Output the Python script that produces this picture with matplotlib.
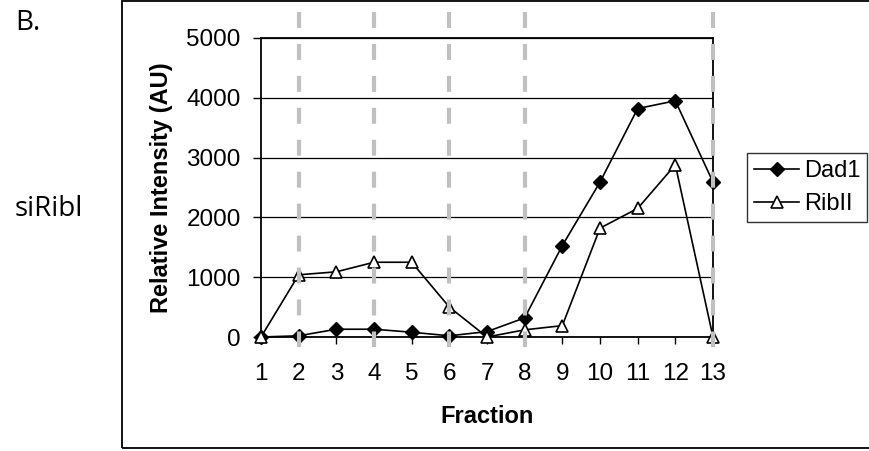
import matplotlib
matplotlib.use("Agg")
import matplotlib.pyplot as plt
import matplotlib.transforms as mtrans
from matplotlib.lines import Line2D
from matplotlib.patches import Rectangle

# данные
fractions = list(range(1, 14))
dad1 = [0, 20, 130, 130, 80, 20, 90, 320, 1530, 2590, 3820, 3950, 2590]
rib2 = [0, 1040, 1090, 1250, 1250, 500, 0, 120, 190, 1820, 2150, 2880, 0]
dashed_fractions = [2, 4, 6, 8, 13]
y_ticks = [0, 1000, 2000, 3000, 4000, 5000]

plt.rcParams['font.family'] = ['Liberation Sans', 'DejaVu Sans']
plt.rcParams['lines.scale_dashes'] = False

W, H = 869, 451
fig = plt.figure(figsize=(W / 100, H / 100), dpi=100)
ax = fig.add_axes([261 / W, 1 - 337 / H, (713 - 261) / W, (337 - 38) / H])

# рамка вокруг всей панели
frame = Rectangle((122 / W, 3 / H), 1.0, (450 - 3) / H, transform=fig.transFigure,
                  fill=False, edgecolor='black', linewidth=1.3, clip_on=False)
fig.add_artist(frame)

# горизонтальная сетка
for y in y_ticks[1:]:
    ax.axhline(y, color='black', linewidth=0.9, zorder=1)

# серые пунктирные линии по фракциям
blend = mtrans.blended_transform_factory(ax.transData, fig.transFigure)
for xf in dashed_fractions:
    ln = Line2D([xf, xf], [1 - 12 / H, 1 - 347 / H], transform=blend,
                color='#c0c0c0', linewidth=3.0, linestyle=(0, (11.5, 11.5)),
                zorder=3)
    ln.set_dash_capstyle('butt')
    fig.add_artist(ln)

ax.plot(fractions, dad1, color='black', linewidth=1.2, marker='D',
        markersize=7.5, markerfacecolor='black', markeredgecolor='black',
        label='Dad1', zorder=5, clip_on=False)
ax.plot(fractions, rib2, color='black', linewidth=1.2, marker='^',
        markersize=9, markerfacecolor='white', markeredgecolor='black',
        markeredgewidth=1.2, label='RibII', zorder=5, clip_on=False)

ax.set_xlim(1, 13)
ax.set_ylim(0, 5000)
ax.set_xticks(fractions)
ax.set_yticks(y_ticks)
ax.tick_params(axis='both', labelsize=17.5, direction='out', width=1, color='black')
ax.tick_params(axis='y', length=6, pad=8.5)
ax.tick_params(axis='x', length=5, pad=14)
for s in ax.spines.values():
    s.set_linewidth(1.3)
    s.set_color('black')
    s.set_zorder(2)

ax.set_xlabel('Fraction', fontsize=17, fontweight='bold', labelpad=14)
ax.set_ylabel('Relative Intensity (AU)', fontsize=17, fontweight='bold', labelpad=10)

leg = fig.legend(loc='lower left', bbox_to_anchor=(747 / W, 1 - 222 / H),
                 fontsize=17, frameon=True, fancybox=False, edgecolor='black',
                 handlelength=1.9, handletextpad=0.2, borderpad=0.3,
                 labelspacing=0.45, borderaxespad=0)
leg.get_frame().set_linewidth(1.0)

fig.text(15 / W, 1 - 23 / H, 'B.', fontsize=20, family=['Open Sans', 'DejaVu Sans'],
         va='center', ha='left')
fig.text(15 / W, 1 - 209 / H, 'siRibl', fontsize=20, family=['Open Sans', 'DejaVu Sans'],
         va='center', ha='left')

fig.savefig('out.png', dpi=100)
